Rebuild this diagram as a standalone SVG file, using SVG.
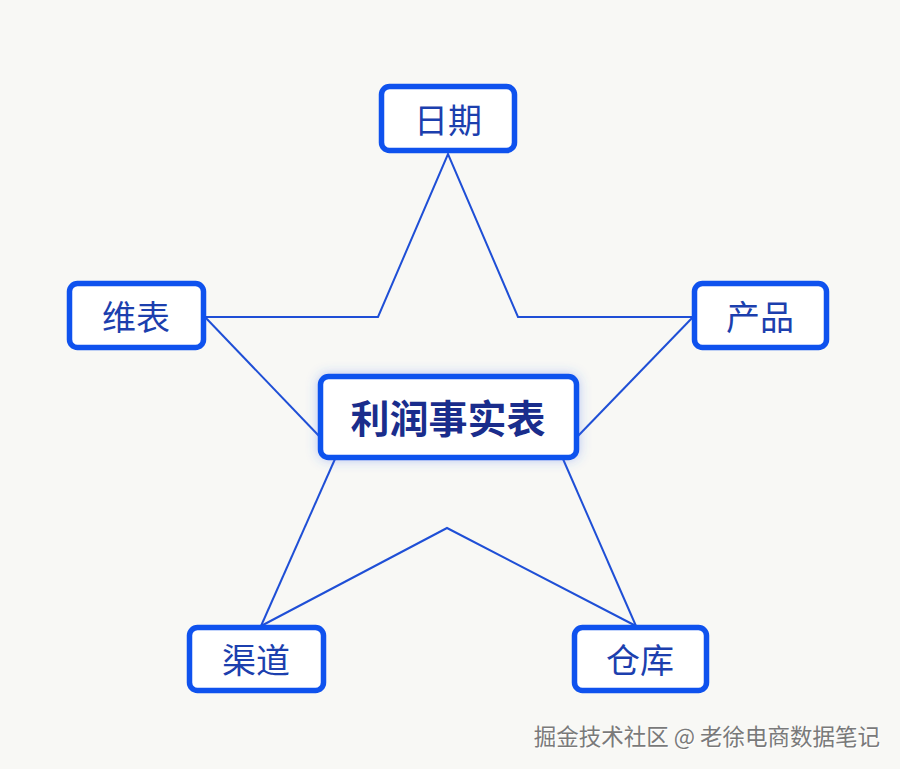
<svg xmlns="http://www.w3.org/2000/svg" width="900" height="769" viewBox="0 0 900 769">
<defs>
<filter id="glow" x="-20%" y="-30%" width="140%" height="160%">
<feGaussianBlur in="SourceAlpha" stdDeviation="6"/>
<feFlood flood-color="#3a6cf0" flood-opacity="0.35"/>
<feComposite operator="in" in2="SourceAlpha"/>
<feGaussianBlur stdDeviation="6"/>
<feMerge><feMergeNode/><feMergeNode in="SourceGraphic"/></feMerge>
</filter>
<style>
.box{fill:#ffffff;stroke:#0f52ee;stroke-width:5.5}
.lbl{font-family:"Noto Sans CJK SC","Noto Sans",sans-serif;font-size:34px;fill:#1c3fae;text-anchor:middle;dominant-baseline:central}
.main{font-size:39px;font-weight:bold;fill:#1a2d8c}
.edge{fill:none;stroke:#1f4fd6;stroke-width:2;stroke-linejoin:miter}
.wm{font-family:"Noto Sans CJK SC","Noto Sans",sans-serif;font-size:22.5px;fill:#7a7a7a;text-anchor:end}
</style>
</defs>
<rect width="900" height="769" fill="#f8f8f5"/>
<g id="connectors">
<polyline class="edge" points="205,317 378,317 448,154 518,317 693,317"/>
<line class="edge" x1="205" y1="317" x2="320" y2="437"/>
<line class="edge" x1="693" y1="317" x2="577" y2="437"/>
<line class="edge" x1="335" y1="459" x2="261" y2="626"/>
<line class="edge" x1="563" y1="459" x2="636" y2="626"/>
<polyline class="edge" points="261,626 447,528 636,626"/>
</g>
<g id="node-center">
<rect class="box" x="320.5" y="376.5" width="256" height="81" rx="8" filter="url(#glow)"/>
<text class="lbl main" x="448" y="416">利润事实表</text>
</g>
<g id="node-date">
<rect class="box" x="381.5" y="86.5" width="133" height="64" rx="8"/>
<text class="lbl" x="448" y="118">日期</text>
</g>
<g id="node-dim">
<rect class="box" x="69.5" y="283.5" width="134" height="64" rx="8"/>
<text class="lbl" x="136" y="315">维表</text>
</g>
<g id="node-product">
<rect class="box" x="694.5" y="283.5" width="132" height="64" rx="8"/>
<text class="lbl" x="760" y="315">产品</text>
</g>
<g id="node-channel">
<rect class="box" x="189.5" y="627.5" width="134" height="63" rx="8"/>
<text class="lbl" x="256" y="658">渠道</text>
</g>
<g id="node-warehouse">
<rect class="box" x="574.5" y="627.5" width="132" height="63" rx="8"/>
<text class="lbl" x="640" y="658">仓库</text>
</g>
<text class="wm" x="880" y="745" style="fill:#ffffff" dx="1" dy="1">掘金技术社区 @ 老徐电商数据笔记</text>
<text class="wm" x="880" y="745">掘金技术社区 @ 老徐电商数据笔记</text>
</svg>
